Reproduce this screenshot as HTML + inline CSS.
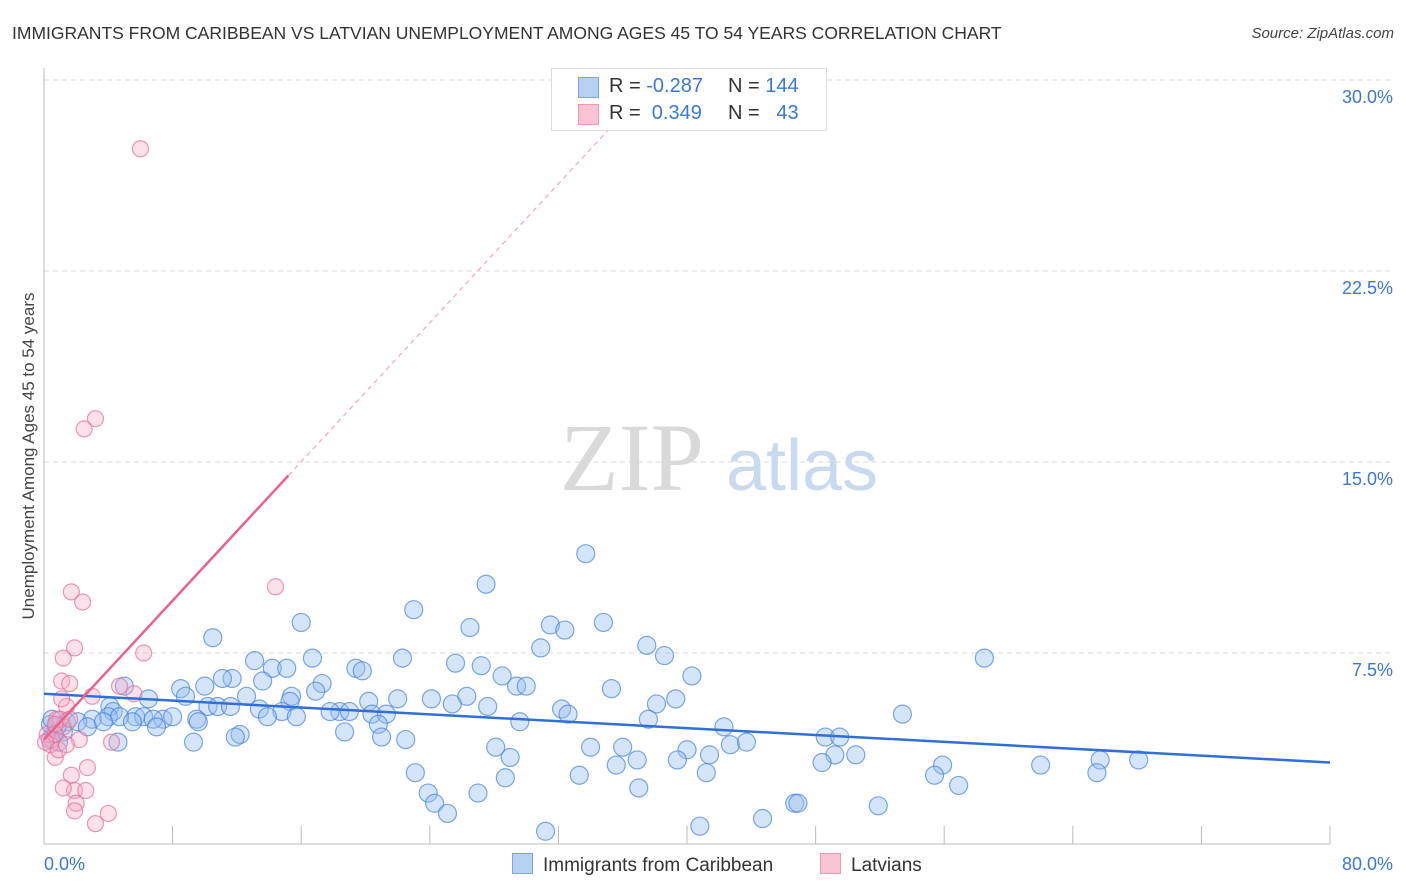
<!DOCTYPE html>
<html><head><meta charset="utf-8"><style>
body{margin:0;background:#fff;font-family:"Liberation Sans",sans-serif;}
#wrap{position:relative;width:1406px;height:892px;overflow:hidden;}
.t{position:absolute;white-space:nowrap;}
</style></head><body>
<div id="wrap">
<div class="t" style="left:12px;top:23px;font-size:17.5px;color:#333;">IMMIGRANTS FROM CARIBBEAN VS LATVIAN UNEMPLOYMENT AMONG AGES 45 TO 54 YEARS CORRELATION CHART</div>
<div class="t" style="right:12px;top:25px;font-size:15px;color:#444;font-style:italic;">Source: ZipAtlas.com</div>
<svg id="plot" width="1406" height="892" style="position:absolute;left:0;top:0"></svg>
</div>
<script>
const xTicks=[0,8,16,24,32,40,48,56,64,72,80];
const yTicks=[7.5,15,22.5,30];
const yTickLabels=["7.5%","15.0%","22.5%","30.0%"];
const xEndLabels=["0.0%","80.0%"];
const blueX=[33.7,27.5,23.0,31.5,32.4,34.8,26.5,16.0,10.5,37.5,38.6,30.9,58.5,22.3,16.7,13.1,25.6,27.2,19.4,19.8,14.2,15.1,40.3,28.5,11.7,11.1,5.0,13.6,17.3,8.5,10.0,29.4,30.0,35.3,16.9,12.6,15.4,6.5,8.8,22.0,24.1,26.3,38.1,39.3,20.2,15.3,10.2,10.8,11.6,4.1,4.3,32.2,32.6,27.6,25.4,18.4,19.0,17.8,20.4,21.3,53.4,5.7,7.4,8.0,6.2,6.8,14.8,13.4,13.9,15.7,9.5,4.0,4.7,5.5,3.0,1.4,2.1,2.7,1.2,0.8,3.7,29.6,37.6,42.3,20.8,7.0,9.6,18.7,12.2,11.9,9.3,4.6,21.0,22.5,28.1,34.0,36.0,40.0,42.7,43.7,48.6,49.5,50.5,49.2,48.4,41.4,39.4,36.9,35.6,29.0,65.7,68.1,55.9,62.0,65.5,55.4,33.3,41.2,23.1,28.7,37.0,23.9,56.9,24.3,27.0,25.1,51.9,46.7,46.9,44.7,40.8,31.2,0.4,0.6,0.4,0.9,0.5];
const blueY=[11.4,10.2,9.2,8.6,8.4,8.7,8.5,8.7,8.1,7.8,7.4,7.7,7.3,7.3,7.3,7.2,7.1,7.0,6.9,6.8,6.9,6.9,6.6,6.6,6.5,6.5,6.2,6.4,6.3,6.1,6.2,6.2,6.2,6.1,6.0,5.8,5.8,5.7,5.8,5.7,5.7,5.8,5.5,5.7,5.6,5.6,5.4,5.4,5.4,5.4,5.2,5.3,5.1,5.4,5.5,5.2,5.2,5.2,5.1,5.1,5.1,5.0,4.9,5.0,5.0,4.9,5.2,5.3,5.0,5.0,4.9,5.0,5.0,4.8,4.9,4.8,4.8,4.6,4.4,4.6,4.8,4.8,4.9,4.6,4.7,4.6,4.8,4.4,4.3,4.2,4.0,4.0,4.2,4.1,3.8,3.8,3.8,3.7,3.9,4.0,4.2,4.2,3.5,3.5,3.2,3.5,3.3,3.3,3.1,3.4,3.3,3.3,3.1,3.1,2.8,2.7,2.7,2.8,2.8,2.6,2.2,2.0,2.3,1.6,2.0,1.2,1.5,1.6,1.6,1.0,0.7,0.5,4.7,4.3,4.1,4.0,4.9];
const pinkX=[6.0,3.2,2.5,14.4,1.7,2.4,1.9,6.2,1.2,1.1,1.6,3.0,5.6,4.7,1.4,1.1,0.8,1.2,2.2,4.2,0.7,2.7,1.7,1.9,1.2,2.6,2.0,1.9,4.0,3.2,0.5,0.2,0.4,0.7,1.0,0.7,0.1,1.6,0.9,1.4];
const pinkY=[27.3,16.7,16.3,10.1,9.9,9.5,7.7,7.5,7.3,6.4,6.3,5.8,5.9,6.2,5.4,5.7,4.9,4.6,4.1,4.0,3.4,3.0,2.7,2.1,2.2,2.1,1.6,1.3,1.2,0.8,4.1,4.3,3.9,4.3,4.9,4.7,4.0,4.9,3.7,3.9];
const blueTrend=[5.9,3.2];
const pinkTrend=[4.1,0.682];
const pinkSolidEnd=15.2;

const NS="http://www.w3.org/2000/svg";
const svg=document.getElementById('plot');
const X0=44,X1=1330,Y0=844,Y30=80;
const xs=v=>X0+v*(X1-X0)/80;
const ys=v=>Y0-v*(Y0-Y30)/30;
function mk(tag,attrs,parent){const e=document.createElementNS(NS,tag);for(const k in attrs)e.setAttribute(k,attrs[k]);(parent||svg).appendChild(e);return e;}

yTicks.forEach((t,i)=>{
  const g=mk('line',{x1:X0,x2:1392,y1:ys(t),y2:ys(t),stroke:'#d8d8d8','stroke-dasharray':'5,4'});
  
  
  const tx=mk('text',{x:1393,y:ys(t)+23,'text-anchor':'end','font-size':'18',fill:'#3a78d4','font-family':'Liberation Sans'});
  tx.textContent=yTickLabels[i];
  
  
});
const ax=mk('line',{x1:X0,x2:X1,y1:Y0,y2:Y0,stroke:'#bbb'});


const ay=mk('line',{x1:X0,x2:X0,y1:68,y2:Y0,stroke:'#bbb'});


xTicks.forEach(t=>{
  const l=mk('line',{x1:xs(t),x2:xs(t),y1:Y0,y2:Y0-18,stroke:'#bbb'});
  
  
});
[[0,'start'],[80,'end']].forEach((p,i)=>{
  const tx=mk('text',{x:i?1393:44,y:870,'text-anchor':p[1],'font-size':'18',fill:'#3a78d4','font-family':'Liberation Sans'});
  tx.textContent=xEndLabels[i];
  
  
});
const yt=mk('text',{x:0,y:0,transform:'translate(34,456) rotate(-90)','text-anchor':'middle','font-size':'17',fill:'#444','font-family':'Liberation Sans'});
yt.textContent='Unemployment Among Ages 45 to 54 years';



// watermark
const w1=mk('text',{x:632,y:490,'text-anchor':'middle','font-size':'96',fill:'#d9d9d9','font-family':'Liberation Serif'});
w1.textContent='ZIP';


const w2=mk('text',{x:802,y:490,'text-anchor':'middle','font-size':'72',fill:'#c8d9f0','font-family':'Liberation Sans'});
w2.textContent='atlas';



blueX.forEach((x,i)=>{
  const c=mk('circle',{cx:xs(x),cy:ys(blueY[i]),r:9,fill:'rgba(150,190,240,0.4)',stroke:'rgba(70,130,220,0.7)','stroke-width':1.2});
  
  
});
pinkX.forEach((x,i)=>{
  const c=mk('circle',{cx:xs(x),cy:ys(pinkY[i]),r:8,fill:'rgba(245,170,195,0.35)',stroke:'rgba(230,110,150,0.7)','stroke-width':1.2});
  
  
});
const bt=mk('line',{x1:xs(0),y1:ys(blueTrend[0]),x2:xs(80),y2:ys(blueTrend[1]),stroke:'#2f6fd6','stroke-width':2.5});


const pEndDash=(30-pinkTrend[0])/pinkTrend[1];
const pt=mk('line',{x1:xs(0),y1:ys(pinkTrend[0]),x2:xs(pinkSolidEnd),y2:ys(pinkTrend[0]+pinkTrend[1]*pinkSolidEnd),stroke:'#e8628e','stroke-width':2.5});


const pd=mk('line',{x1:xs(pinkSolidEnd),y1:ys(pinkTrend[0]+pinkTrend[1]*pinkSolidEnd),x2:xs(pEndDash),y2:ys(30),stroke:'#f0a8bf','stroke-width':1.2,'stroke-dasharray':'5,4'});


</script>
<div class="t" style="left:551px;top:68px;width:274px;height:61px;border:1px solid #ddd;background:#fff;font-size:20px;color:#333;">
 <div style="position:absolute;left:26px;top:8px;width:19px;height:19px;background:#b6d0f4;border:1px solid #7aa6e6"></div>
 <div style="position:absolute;left:26px;top:35px;width:19px;height:19px;background:#f8c4d4;border:1px solid #ee98b4"></div>
 <div class="t" style="left:57px;top:6px">R = <span style="color:#3a78d4">-0.287</span></div>
 <div class="t" style="left:176px;top:6px">N = <span style="color:#3a78d4">144</span></div>
 <div class="t" style="left:57px;top:33px">R = &nbsp;<span style="color:#3a78d4">0.349</span></div>
 <div class="t" style="left:176px;top:33px">N = &nbsp;&nbsp;<span style="color:#3a78d4">43</span></div>
</div>
<div class="t" style="left:512px;top:853px;font-size:19px;color:#333;">
 <span style="display:inline-block;width:19px;height:19px;background:#b6d0f4;border:1px solid #7aa6e6;vertical-align:-3px;margin-right:10px"></span>Immigrants from Caribbean</div>
<div class="t" style="left:820px;top:853px;font-size:19px;color:#333;">
 <span style="display:inline-block;width:19px;height:19px;background:#f8c4d4;border:1px solid #ee98b4;vertical-align:-3px;margin-right:10px"></span>Latvians</div>
</body></html>
